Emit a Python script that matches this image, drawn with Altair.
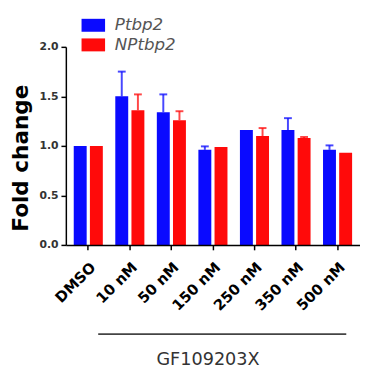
import altair as alt
import pandas as pd

categories = ["DMSO", "10 nM", "50 nM", "150 nM", "250 nM", "350 nM", "500 nM"]
series = ["Ptbp2", "NPtbp2"]
ptbp2 = [1.00, 1.50, 1.34, 0.96, 1.16, 1.16, 0.96]
ptbp2_err = [0.0, 0.25, 0.18, 0.035, 0.0, 0.12, 0.045]
nptbp2 = [1.00, 1.36, 1.26, 0.99, 1.10, 1.08, 0.93]
nptbp2_err = [0.0, 0.16, 0.09, 0.0, 0.08, 0.01, 0.0]
colors = ["#0a0aff", "#ff0a0a"]
group_label = ["GF109203X"]

rows = []
for i, c in enumerate(categories):
    rows.append({"cat": c, "series": "Ptbp2", "value": ptbp2[i], "upper": ptbp2[i] + ptbp2_err[i], "err": ptbp2_err[i]})
    rows.append({"cat": c, "series": "NPtbp2", "value": nptbp2[i], "upper": nptbp2[i] + nptbp2_err[i], "err": nptbp2_err[i]})
df = pd.DataFrame(rows)
df_err = df[df["err"] > 0]

x_enc = alt.X("cat:N", sort=categories,
              scale=alt.Scale(paddingInner=0.3, paddingOuter=0.19),
              axis=alt.Axis(title=None, labelAngle=-45, labelFont="DejaVu Sans",
                            labelFontWeight="bold", labelFontSize=15, labelColor="#000",
                            domainColor="#000", domainWidth=1.5, tickColor="#000",
                            tickWidth=1.5, tickSize=5, labelPadding=10, zindex=1))
xo_enc = alt.XOffset("series:N", sort=series, scale=alt.Scale(paddingInner=0.2))
color_enc = alt.Color("series:N", sort=series,
                      scale=alt.Scale(domain=series, range=colors),
                      legend=alt.Legend(title=None, orient="none", legendX=16, legendY=-34,
                                        symbolType="M-1,-0.55H1V0.55H-1Z", symbolSize=576,
                                        symbolStrokeWidth=0, symbolOpacity=1,
                                        labelFont="DejaVu Sans", labelFontStyle="italic",
                                        labelFontSize=17, labelColor="#555",
                                        labelOffset=10, rowPadding=0, padding=0))
y_scale = alt.Scale(domain=[0, 2], nice=False)

bars = alt.Chart(df).mark_bar().encode(
    x=x_enc,
    xOffset=xo_enc,
    y=alt.Y("value:Q", scale=y_scale, stack=None,
            axis=alt.Axis(title="Fold change", values=[0, 0.5, 1, 1.5, 2], format=".1f",
                          grid=False, domainColor="#000", domainWidth=1.5,
                          tickColor="#000", tickWidth=1.5, tickSize=5,
                          labelFont="DejaVu Sans", labelFontWeight="bold",
                          labelFontSize=11, labelColor="#333", labelPadding=3,
                          titleFont="DejaVu Sans", titleFontWeight="bold",
                          titleFontSize=22, titleColor="#000", titlePadding=7,
                          titleY=113, zindex=1)),
    color=color_enc,
)

err_lines = alt.Chart(df_err).mark_rule(strokeWidth=2, opacity=0.75).encode(
    x=alt.X("cat:N", sort=categories),
    xOffset=alt.XOffset("series:N", sort=series),
    y=alt.Y("value:Q", scale=y_scale),
    y2="upper:Q",
    color=alt.Color("series:N", sort=series, legend=None),
)
err_caps = alt.Chart(df_err).mark_tick(thickness=2, size=8, opacity=0.75).encode(
    x=alt.X("cat:N", sort=categories),
    xOffset=alt.XOffset("series:N", sort=series),
    y=alt.Y("upper:Q", scale=y_scale),
    color=alt.Color("series:N", sort=series, legend=None),
)

ann_df = pd.DataFrame({"label": group_label})
ann_line = alt.Chart(ann_df).mark_rule(color="#444", strokeWidth=2).encode(
    x=alt.value(33), x2=alt.value(286), y=alt.value(293), y2=alt.value(293)
)
ann_text = alt.Chart(ann_df).mark_text(font="DejaVu Sans", fontSize=18, color="#333",
                                       align="center", baseline="middle").encode(
    text="label:N", x=alt.value(145), y=alt.value(319)
)

chart = alt.layer(bars, err_lines, err_caps, ann_line, ann_text).properties(
    width=300, height=202,
    autosize=alt.AutoSizeParams(type="none"),
    padding={"left": 59, "top": 36, "right": 0, "bottom": 127},
    background="white",
).configure(
    view=alt.ViewConfig(stroke="#ffffff", strokeWidth=2),
    axis=alt.AxisConfig(grid=False),
)

chart.save("out.html", embed_options={"renderer": "svg", "actions": False})
